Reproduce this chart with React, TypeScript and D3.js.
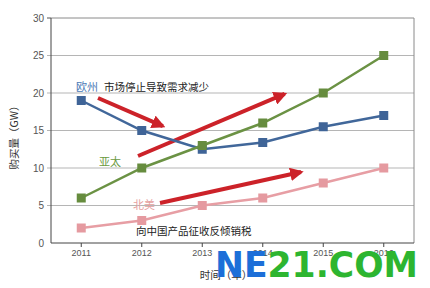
import React from "react";
import * as d3 from "d3";

const years = ["2011", "2012", "2013", "2014", "2015", "2016"];
const europe = [19, 15, 12.5, 13.4, 15.5, 17];
const asiaPac = [6, 10, 13, 16, 20, 25];
const northAm = [2, 3, 5, 6, 8, 10];
const yTicks = [0, 5, 10, 15, 20, 25, 30];

const W = 430, H = 288;
const M = { left: 51, right: 414, top: 18, bottom: 243 };

export default function App() {
  const x = d3.scaleBand<string>().domain(years).range([M.left, M.right]).padding(0);
  const y = d3.scaleLinear().domain([0, 30]).range([M.bottom, M.top]);
  const cx = (i: number) => (x(years[i]) as number) + x.bandwidth() / 2;
  const line = d3.line<number>().x((_, i) => cx(i)).y((d) => y(d));

  const series = [
    { data: europe, color: "#41679a", marker: "#3f6497" },
    { data: asiaPac, color: "#6b9244", marker: "#668c3e" },
    { data: northAm, color: "#e79ea4", marker: "#e59aa0" },
  ];

  const arrows = [
    { x1: 98, y1: 98, x2: 167, y2: 128 },
    { x1: 138, y1: 156, x2: 294, y2: 90 },
    { x1: 160, y1: 203, x2: 310, y2: 170 },
  ];

  const font = "'Noto Sans CJK SC', 'Noto Sans', sans-serif";

  return (
    <svg width={W} height={H} style={{ position: "absolute", left: 0, top: 0, background: "#fff" }}>
      <defs>
        <marker id="ah" viewBox="0 0 10 10" refX="8" refY="5" markerWidth="3.4" markerHeight="3.4" orient="auto" markerUnits="strokeWidth">
          <path d="M0,0 L10,5 L0,10 z" fill="#cc2229" />
        </marker>
      </defs>
      {/* grid */}
      {yTicks.slice(1, -1).map((t) => (
        <line key={t} x1={M.left - 4} x2={M.right} y1={y(t)} y2={y(t)} stroke="#b5b5b5" strokeWidth={1} />
      ))}
      {/* frame */}
      <line x1={M.left} x2={M.right} y1={M.top} y2={M.top} stroke="#8a8a8a" />
      <line x1={M.right} x2={M.right} y1={M.top} y2={M.bottom} stroke="#8a8a8a" />
      <line x1={M.left - 4} x2={M.left} y1={M.top} y2={M.top} stroke="#555" />
      <line x1={M.left} x2={M.left} y1={M.top} y2={M.bottom} stroke="#444" />
      <line x1={M.left} x2={M.right} y1={M.bottom} y2={M.bottom} stroke="#444" />
      {yTicks.map((t) => (
        <text key={t} x={44} y={y(t) + 3.5} textAnchor="end" fontSize={10} fill="#555" fontFamily="'Liberation Sans', Arial, sans-serif">{t}</text>
      ))}
      {years.map((yr, i) => (
        <g key={yr}>
          <line x1={cx(i)} x2={cx(i)} y1={M.bottom} y2={M.bottom + 4} stroke="#444" />
          <text x={cx(i)} y={256} textAnchor="middle" fontSize={9} fill="#555" fontFamily="'Liberation Sans', Arial, sans-serif">{yr}</text>
        </g>
      ))}
      {/* arrows */}
      {arrows.map((a, i) => (
        <line key={i} x1={a.x1} y1={a.y1} x2={a.x2 - (a.x2 - a.x1) * 0.06} y2={a.y2 - (a.y2 - a.y1) * 0.06} stroke="#cc2229" strokeWidth={4} markerEnd="url(#ah)" />
      ))}
      {/* series */}
      {series.map((s, si) => (
        <g key={si}>
          <path d={line(s.data) || ""} fill="none" stroke={s.color} strokeWidth={2.5} />
          {s.data.map((v, i) => (
            <rect key={i} x={cx(i) - 4.5} y={y(v) - 4.5} width={9} height={9} fill={s.marker} />
          ))}
        </g>
      ))}
      {/* annotations */}
      <text x={76} y={91} fontSize={11} fill="#4a78b5" fontFamily={font}>欧州</text>
      <text x={104} y={91} fontSize={10.5} fill="#222" fontFamily={font}>市场停止导致需求减少</text>
      <text x={99} y={166} fontSize={11} fill="#6b9a3f" fontFamily={font}>亚太</text>
      <text x={133} y={209} fontSize={11} fill="#e6a0a0" fontFamily={font}>北美</text>
      <text x={136} y={235} fontSize={10.5} fill="#222" fontFamily={font}>向中国产品征收反倾销税</text>
      <text transform={`translate(18,135) rotate(-90)`} textAnchor="middle" fontSize={10.5} fill="#333" fontFamily={font}>购买量（GW）</text>
      <text x={226} y={279} textAnchor="middle" fontSize={10.5} fill="#333" fontFamily={font}>时间（年）</text>
      {/* watermark logo */}
      <text x={215} y={277} fontSize={36} fontWeight={900} fontFamily="'DejaVu Sans', sans-serif" textLength={203} lengthAdjust="spacingAndGlyphs">
        <tspan fill="#1c6fd8">NE</tspan><tspan fill="#2db530">21.COM</tspan>
      </text>
    </svg>
  );
}
